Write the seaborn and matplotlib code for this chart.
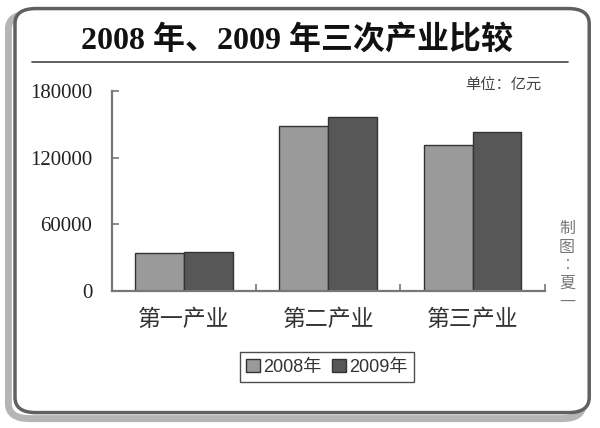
import numpy as np
import pandas as pd
import matplotlib
matplotlib.use("Agg")
import matplotlib.pyplot as plt
from matplotlib.patches import FancyBboxPatch
from matplotlib.ticker import FixedLocator
import seaborn as sns

# data (亿元)
industries = ["第一产业", "第二产业", "第三产业"]
years = ["2008年", "2009年"]
values_2008 = [34200, 148800, 131400]
values_2009 = [35400, 156600, 142800]
y_ticks = [0, 60000, 120000, 180000]

colors = ["#9a9a9a", "#575757"]

sns.set_theme(style="white")
plt.rcParams["font.family"] = ["Liberation Sans", "Noto Sans CJK SC"]

df = pd.DataFrame({
    "industry": industries * 2,
    "year": [years[0]] * 3 + [years[1]] * 3,
    "value": values_2008 + values_2009,
})

fig = plt.figure(figsize=(6, 4.28), dpi=100)

# rounded frame with a soft shadow (kept behind the axes)
shadow = FancyBboxPatch((0.014, 0.022), 0.958, 0.945,
                        boxstyle="round,pad=0,rounding_size=0.035",
                        transform=fig.transFigure, facecolor="none",
                        edgecolor="#b5b5b5", linewidth=5, zorder=-2)
frame = FancyBboxPatch((0.025, 0.036), 0.957, 0.944,
                       boxstyle="round,pad=0,rounding_size=0.035",
                       transform=fig.transFigure, facecolor="white",
                       edgecolor="#606060", linewidth=2.5, zorder=-1)
fig.patches.extend([shadow, frame])

ax = fig.add_axes([0.186, 0.320, 0.722, 0.467])
ax.set_facecolor("none")

sns.barplot(data=df, x="industry", y="value", hue="year", palette=colors,
            width=0.675, gap=0, saturation=1, edgecolor="#333333",
            linewidth=1, ax=ax)

ax.set_xlim(-0.5, 2.5)
ax.set_ylim(0, 180000)
ax.set_yticks(y_ticks)
ax.set_yticklabels([str(t) for t in y_ticks], fontsize=15,
                   family=["Liberation Serif"], color="#222222")
ax.set_xlabel("")
ax.set_ylabel("")
ax.tick_params(axis="x", which="major", bottom=False, length=0, pad=12)
ax.tick_params(axis="y", which="major", left=True, direction="in", length=5,
               width=1.2, color="#777777", pad=14)
ax.xaxis.set_minor_locator(FixedLocator([0.5, 1.5, 2.5]))
ax.tick_params(axis="x", which="minor", bottom=True, direction="in",
               length=5, width=1.2, color="#777777")
for lab in ax.get_xticklabels():
    lab.set_fontsize(16.5)
    lab.set_color("#333333")

for side in ["top", "right"]:
    ax.spines[side].set_visible(False)
for side in ["left", "bottom"]:
    ax.spines[side].set_color("#777777")
    ax.spines[side].set_linewidth(1.6)

handles, labels = ax.get_legend_handles_labels()
ax.get_legend().remove()
leg = fig.legend(handles, labels, loc="center", bbox_to_anchor=(0.545, 0.142),
                 ncol=2, fontsize=13, frameon=True, fancybox=False,
                 handlelength=0.75, handleheight=0.75, handletextpad=0.2,
                 columnspacing=0.6, borderpad=0.35)
leg.get_frame().set_edgecolor("#222222")
leg.get_frame().set_linewidth(1.0)
for t in leg.get_texts():
    t.set_color("#333333")

# title and rule under it
fig.text(0.495, 0.905, "2008 年、2009 年三次产业比较", ha="center", va="center",
         fontsize=23, fontweight="bold", color="#111111",
         family=["Liberation Serif", "Noto Sans CJK SC"])
fig.add_artist(plt.Line2D([0.053, 0.947], [0.855, 0.855],
                          transform=fig.transFigure, color="#555555",
                          linewidth=1.3))

fig.text(0.838, 0.801, "单位：亿元", ha="center", va="center",
         fontsize=11, color="#444444", family=["Noto Sans CJK SC"])

# vertical credit on the right
fig.text(0.945, 0.38, "制\n图\n︰\n夏\n一", ha="center", va="center",
         fontsize=11.5, color="#777777", linespacing=1.1,
         family=["Noto Sans CJK SC"])

fig.savefig("out.png", dpi=100)
